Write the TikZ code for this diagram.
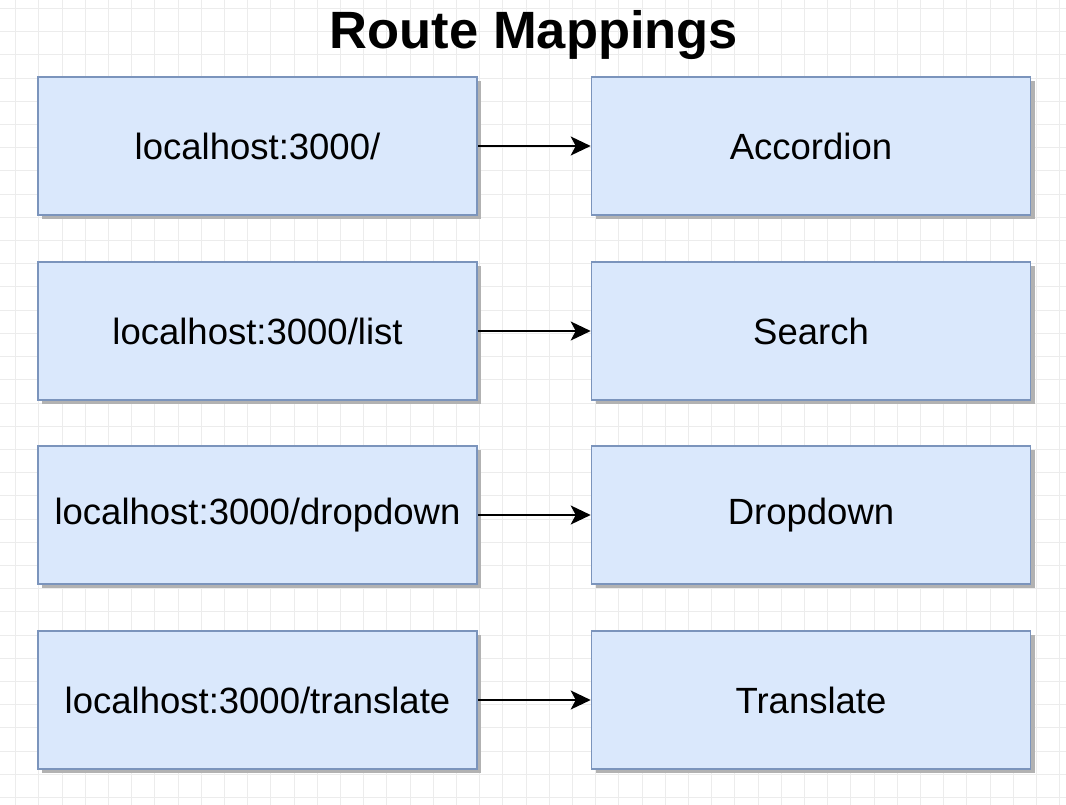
\documentclass[tikz,border=0pt]{standalone}
\usepackage{fontspec}
\setmainfont{Liberation Sans}
\usetikzlibrary{shadows,arrows.meta}
\definecolor{boxfill}{HTML}{DAE8FC}
\definecolor{boxline}{HTML}{7B94BC}
\definecolor{gridc}{HTML}{ECECEC}
\tikzset{
  box/.style={draw=boxline, fill=boxfill, line width=1.6pt, minimum width=439pt, minimum height=138pt, inner sep=0pt,
    font=\fontsize{36.5}{40}\selectfont,
    drop shadow={shadow xshift=4pt, shadow yshift=-4pt, fill=black!30, opacity=1}},
  link/.style={line width=1.8pt, -{Stealth[length=20pt, width=19pt, inset=5pt]}}
}
\begin{document}
\begin{tikzpicture}[x=1pt,y=-1pt]
\useasboundingbox (0,0) rectangle (1066,805);
\fill[white] (0,0) rectangle (1066,805);
\foreach \i in {0,...,46} {
  \draw[gridc, line width=0.8pt] ({15.5+23.2*\i},0) -- ({15.5+23.2*\i},805);
}
\foreach \j in {0,...,35} {
  \draw[gridc, line width=0.8pt] (0,{8.5+23.2*\j}) -- (1066,{8.5+23.2*\j});
}
\node[font=\fontsize{52.5}{56}\selectfont\bfseries] (title) at (534,35) {Route Mappings};
\node[box] (l1) at (257.5,146) {localhost:3000/};
\node[box] (r1) at (811,146) {Accordion};
\node[box] (l2) at (257.5,331) {localhost:3000/list};
\node[box] (r2) at (811,331) {Search};
\node[box] (l3) at (257.5,515) {localhost:3000/dropdown};
\node[box] (r3) at (811,515) {Dropdown};
\node[box] (l4) at (257.5,700) {localhost:3000/translate};
\node[box] (r4) at (811,700) {Translate};
\foreach \k in {1,2,3,4} {
  \draw[link] (l\k.east) -- (r\k.west);
}
\end{tikzpicture}
\end{document}
